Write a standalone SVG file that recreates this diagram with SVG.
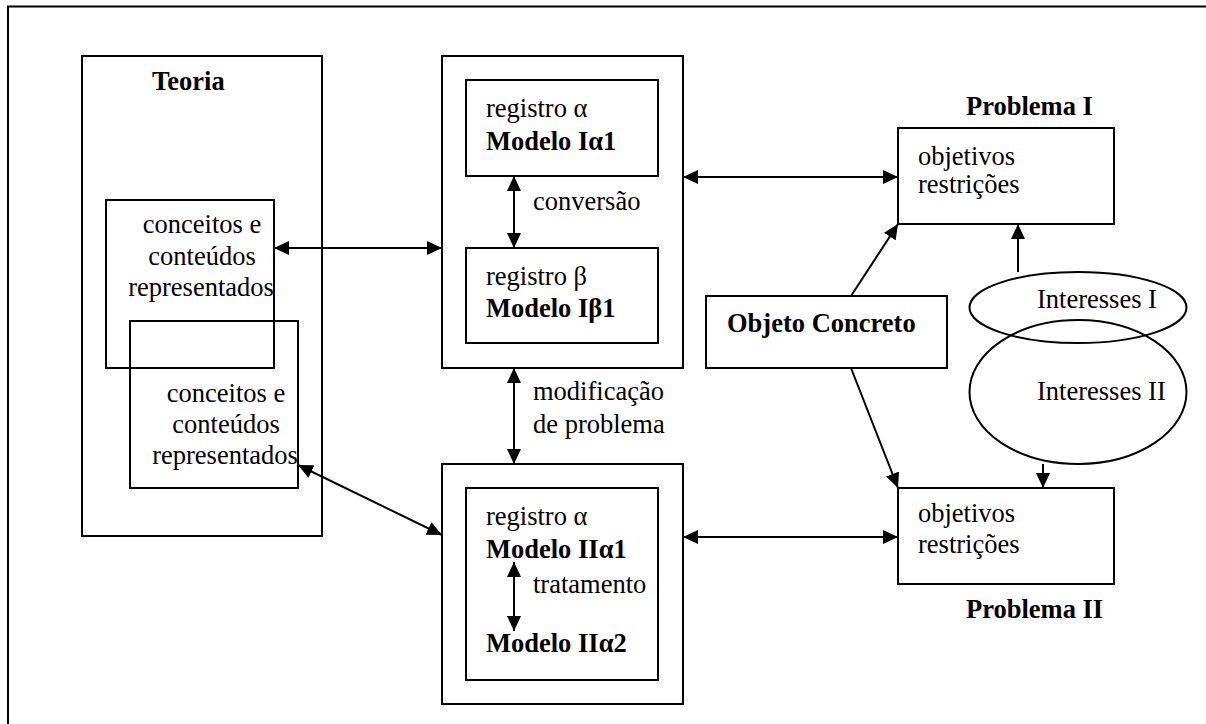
<svg xmlns="http://www.w3.org/2000/svg" width="1206" height="724" viewBox="0 0 1206 724" font-family="'Liberation Serif', 'DejaVu Serif', serif" font-size="26.5">
<style>
.box{fill:none;stroke:#000;stroke-width:2}
.ln{fill:none;stroke:#000;stroke-width:2}
text{font-family:'Liberation Serif','DejaVu Serif',serif;font-size:26.5px;fill:#000}
.b{font-weight:bold}
</style>
<defs>
<marker id="ah" viewBox="0 0 15 14" markerWidth="15" markerHeight="14" refX="15" refY="7" orient="auto-start-reverse" markerUnits="userSpaceOnUse">
<path d="M0,0 L15,7 L0,14 z" fill="#000"/>
</marker>
</defs>
<rect fill="#fff" x="0" y="0" width="1206" height="724"/>
<rect class="box" x="8" y="6.5" width="1300" height="800"/>

<g id="teoria">
<rect class="box" x="82" y="56" width="240" height="480"/>
<text class="b" x="152" y="90">Teoria</text>
</g>
<g id="conceitos1">
<rect class="box" x="106" y="200" width="168" height="168"/>
<text x="202" y="233" text-anchor="middle">conceitos e</text>
<text x="202" y="265" text-anchor="middle">conteúdos</text>
<text x="201" y="296" text-anchor="middle">representados</text>
</g>
<g id="conceitos2">
<rect class="box" x="130" y="321" width="168" height="167"/>
<text x="226" y="402" text-anchor="middle">conceitos e</text>
<text x="226" y="433" text-anchor="middle">conteúdos</text>
<text x="225" y="464" text-anchor="middle">representados</text>
</g>

<g id="modeloI">
<rect class="box" x="442" y="56" width="241" height="312"/>
<rect class="box" x="466" y="80" width="192" height="96"/>
<text x="486" y="117">registro α</text>
<text class="b" x="486" y="150">Modelo Iα1</text>
<rect class="box" x="466" y="248" width="192" height="95"/>
<text x="486" y="285">registro β</text>
<text class="b" x="486" y="317">Modelo Iβ1</text>
<text x="533" y="210">conversão</text>
</g>

<g id="modeloII">
<rect class="box" x="442" y="464" width="241" height="240"/>
<rect class="box" x="466" y="488" width="192" height="192"/>
<text x="486" y="525">registro α</text>
<text class="b" x="486" y="558">Modelo IIα1</text>
<text x="533" y="593">tratamento</text>
<text class="b" x="486" y="652">Modelo IIα2</text>
</g>

<g id="modificacao-label">
<text x="533" y="400">modificação</text>
<text x="533" y="433">de problema</text>
</g>

<g id="objeto">
<rect class="box" x="706" y="296" width="241" height="72"/>
<text class="b" x="727" y="332">Objeto Concreto</text>
</g>

<g id="problemaI">
<text class="b" x="966" y="115">Problema I</text>
<rect class="box" x="898" y="128" width="216" height="96"/>
<text x="918" y="165">objetivos</text>
<text x="918" y="193">restrições</text>
</g>

<g id="problemaII">
<rect class="box" x="898" y="488" width="216" height="96"/>
<text x="918" y="522">objetivos</text>
<text x="918" y="553">restrições</text>
<text class="b" x="966" y="618">Problema II</text>
</g>

<g id="interessesI">
<ellipse class="box" cx="1078" cy="307.5" rx="108.5" ry="35.5"/>
<text x="1037" y="308">Interesses I</text>
</g>
<g id="interessesII">
<ellipse class="box" cx="1078" cy="392" rx="108.5" ry="72"/>
<text x="1037" y="400">Interesses II</text>
</g>

<g id="connectors">
<line class="ln" x1="274" y1="248" x2="442" y2="248" marker-start="url(#ah)" marker-end="url(#ah)"/>
<line class="ln" x1="514" y1="176" x2="514" y2="248" marker-start="url(#ah)" marker-end="url(#ah)"/>
<line class="ln" x1="683" y1="177" x2="898" y2="177" marker-start="url(#ah)" marker-end="url(#ah)"/>
<line class="ln" x1="514" y1="368" x2="514" y2="464" marker-start="url(#ah)" marker-end="url(#ah)"/>
<line class="ln" x1="514" y1="562" x2="514" y2="631" marker-start="url(#ah)" marker-end="url(#ah)"/>
<line class="ln" x1="298" y1="465" x2="442" y2="535" marker-start="url(#ah)" marker-end="url(#ah)"/>
<line class="ln" x1="683" y1="537" x2="898" y2="537" marker-start="url(#ah)" marker-end="url(#ah)"/>
<line class="ln" x1="851" y1="296" x2="898" y2="224" marker-end="url(#ah)"/>
<line class="ln" x1="851" y1="368" x2="898" y2="488" marker-end="url(#ah)"/>
<line class="ln" x1="1018" y1="272" x2="1018" y2="224" marker-end="url(#ah)"/>
<line class="ln" x1="1043" y1="464" x2="1043" y2="488" marker-end="url(#ah)"/>
</g>
</svg>
